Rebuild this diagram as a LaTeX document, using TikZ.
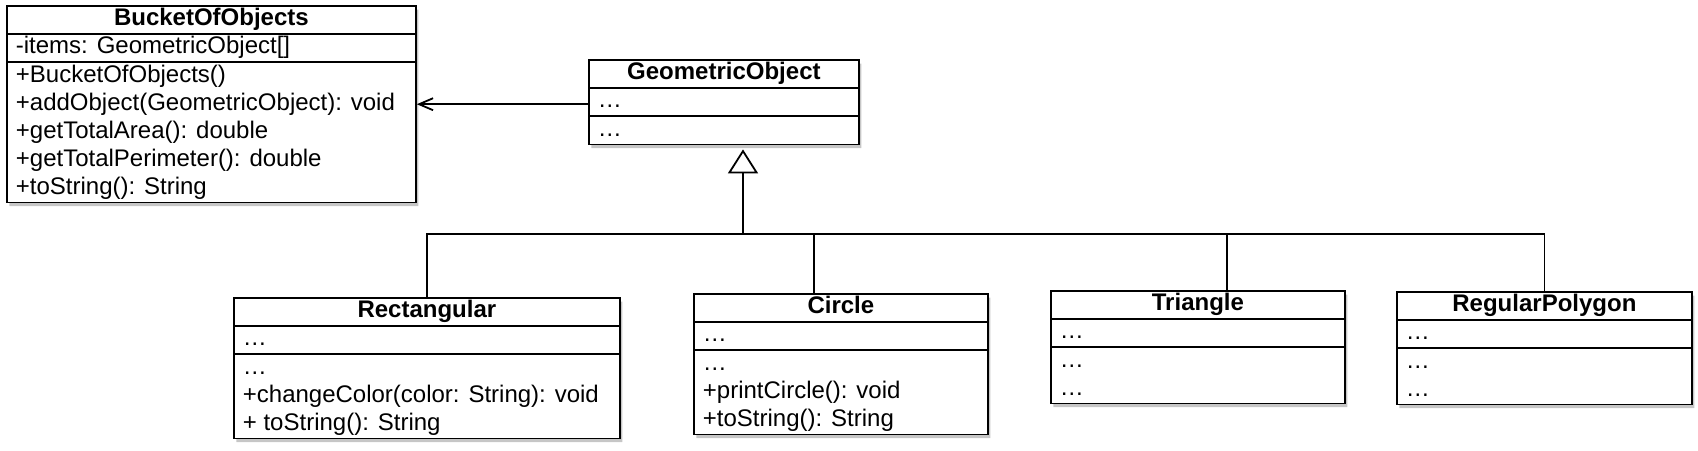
\documentclass[tikz,border=0pt]{standalone}
\usepackage{fontspec}
\setmainfont{Liberation Sans}
\usetikzlibrary{shapes.multipart, positioning, calc, arrows.meta, shadows}
\tikzset{
    umlclass/.style={rectangle split, rectangle split parts=3, draw, fill=white,
        inner xsep=4.5pt, inner ysep=-0.4pt, align=left, anchor=north west,
        rectangle split part align={center,left,left},
        font=\fontsize{12}{14}\selectfont,
        drop shadow={opacity=0.45, shadow xshift=1.2pt, shadow yshift=-1.8pt}}
}

\begin{document}
\begin{tikzpicture}[x=0.5pt, y=-0.5pt, line width=0.9pt]
    \useasboundingbox (0,0) rectangle (1698,450);

    % Aggregating class
    \node[umlclass, minimum width=204.5pt] (bucket) at (6,5)
        {\strut\textbf{BucketOfObjects}
         \nodepart{two}\strut-items: GeometricObject[]
         \nodepart{three}\strut+BucketOfObjects()\\
            \strut+addObject(GeometricObject): void\\
            \strut+getTotalArea(): double\\
            \strut+getTotalPerimeter(): double\\
            \strut+toString(): String};

    % Base class
    \node[umlclass, minimum width=135pt] (geo) at (588,59)
        {\strut\textbf{GeometricObject}
         \nodepart{two}\strut…
         \nodepart{three}\strut…};

    % Subclasses
    \node[umlclass, minimum width=193pt] (rect) at (233,297)
        {\strut\textbf{Rectangular}
         \nodepart{two}\strut…
         \nodepart{three}\strut…\\
            \strut+changeColor(color: String): void\\
            \strut+ toString(): String};
    \node[umlclass, minimum width=147pt] (circ) at (693,293)
        {\strut\textbf{Circle}
         \nodepart{two}\strut…
         \nodepart{three}\strut…\\
            \strut+printCircle(): void\\
            \strut+toString(): String};
    \node[umlclass, minimum width=147pt] (tri) at (1050,290)
        {\strut\textbf{Triangle}
         \nodepart{two}\strut…
         \nodepart{three}\strut…\\ \strut…};
    \node[umlclass, minimum width=147.5pt] (poly) at (1396,291)
        {\strut\textbf{RegularPolygon}
         \nodepart{two}\strut…
         \nodepart{three}\strut…\\ \strut…};

    % Association
    \draw[-{Straight Barb[length=7pt, width=6pt]}] ([yshift=-1pt]geo.west) -- ([yshift=-1pt]geo.west -| bucket.east);

    % Inheritance tree
    \coordinate (hub) at (743,234);
    \draw[-{Triangle[open, length=12pt, width=15pt]}, shorten >=2pt] (hub) -- (hub |- geo.south);
    \draw (rect.north) |- (poly.north |- hub) -- (poly.north);
    \draw ([xshift=-13.5pt]circ.north) -- ([xshift=-13.5pt]circ.north |- hub);
    \draw ([xshift=14.5pt]tri.north) -- ([xshift=14.5pt]tri.north |- hub);
\end{tikzpicture}
\end{document}
